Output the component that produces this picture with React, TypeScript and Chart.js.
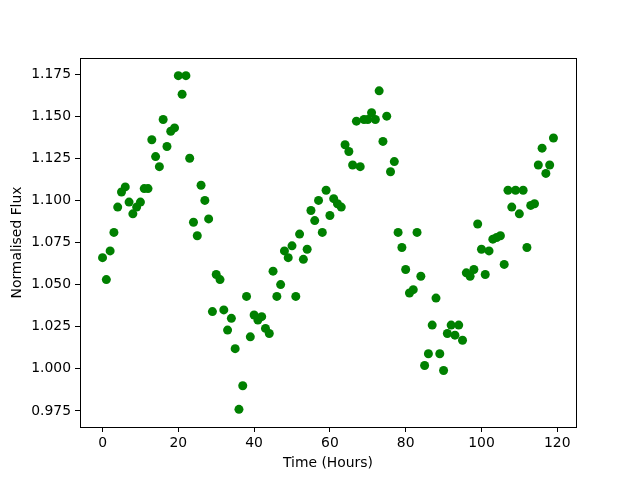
import React, { useEffect, useRef } from "react";
import { Chart, registerables } from "chart.js";

Chart.register(...registerables);

const hours: number[] = [
  0, 1, 2, 3, 4, 5, 6, 7, 8, 9, 10, 11, 12, 13, 14, 15, 16, 17, 18, 19,
  20, 21, 22, 23, 24, 25, 26, 27, 28, 29, 30, 31, 32, 33, 34, 35, 36, 37, 38, 39,
  40, 41, 42, 43, 44, 45, 46, 47, 48, 49, 50, 51, 52, 53, 54, 55, 56, 57, 58, 59,
  60, 61, 62, 63, 64, 65, 66, 67, 68, 69, 70, 71, 72, 73, 74, 75, 76, 77, 78, 79,
  80, 81, 82, 83, 84, 85, 86, 87, 88, 89, 90, 91, 92, 93, 94, 95, 96, 97, 98, 99,
  100, 101, 102, 103, 104, 105, 106, 107, 108, 109, 110, 111, 112, 113, 114, 115, 116, 117, 118, 119,
];

const flux: number[] = [
  1.066, 1.053, 1.070, 1.081, 1.096, 1.105, 1.108, 1.099, 1.092, 1.096, 1.099, 1.107, 1.107, 1.136, 1.126, 1.120, 1.148, 1.132, 1.141, 1.143,
  1.174, 1.163, 1.174, 1.125, 1.087, 1.079, 1.109, 1.100, 1.089, 1.034, 1.056, 1.053, 1.035, 1.023, 1.030, 1.012, 0.976, 0.990, 1.043, 1.019,
  1.032, 1.029, 1.031, 1.024, 1.021, 1.058, 1.043, 1.050, 1.070, 1.066, 1.073, 1.043, 1.080, 1.065, 1.071, 1.094, 1.088, 1.100, 1.081, 1.106,
  1.091, 1.101, 1.098, 1.096, 1.133, 1.129, 1.121, 1.147, 1.120, 1.148, 1.148, 1.152, 1.148, 1.165, 1.135, 1.150, 1.117, 1.123, 1.081, 1.072,
  1.059, 1.045, 1.047, 1.081, 1.055, 1.002, 1.009, 1.026, 1.042, 1.009, 0.999, 1.021, 1.026, 1.020, 1.026, 1.017, 1.057, 1.055, 1.059, 1.086,
  1.071, 1.056, 1.070, 1.077, 1.078, 1.079, 1.062, 1.106, 1.096, 1.106, 1.092, 1.106, 1.072, 1.097, 1.098, 1.121, 1.131, 1.116, 1.121, 1.137,
];

const xTicks: number[] = [0, 20, 40, 60, 80, 100, 120];
const yTicks: number[] = [0.975, 1.0, 1.025, 1.05, 1.075, 1.1, 1.125, 1.15, 1.175];

const FONT = "'DejaVu Sans', sans-serif";

const framePlugin = {
  id: "frame",
  afterDraw(chart: any) {
    const { ctx, chartArea } = chart;
    ctx.save();
    ctx.strokeStyle = "#000";
    ctx.lineWidth = 1;
    ctx.strokeRect(
      Math.round(chartArea.left) + 0.5,
      Math.round(chartArea.top) + 0.5,
      Math.round(chartArea.right - chartArea.left),
      Math.round(chartArea.bottom - chartArea.top)
    );
    ctx.restore();
  },
};

export default function App() {
  const ref = useRef<HTMLCanvasElement | null>(null);

  useEffect(() => {
    if (!ref.current) return;
    const data = hours.map((h, i) => ({ x: h, y: flux[i] }));
    const chart = new Chart(ref.current, {
      type: "scatter",
      data: {
        datasets: [
          {
            data,
            backgroundColor: "#008000",
            borderColor: "#008000",
            borderWidth: 0,
            pointRadius: 4.5,
          },
        ],
      },
      options: {
        animation: false,
        responsive: false,
        devicePixelRatio: 1,
        layout: { padding: { left: 0, right: 64, top: 58, bottom: 0 } },
        plugins: {
          legend: { display: false },
          tooltip: { enabled: false },
        },
        scales: {
          x: {
            type: "linear",
            min: -5.95,
            max: 124.95,
            afterFit: (s: any) => {
              s.height = 53;
            },
            afterBuildTicks: (s: any) => {
              s.ticks = xTicks.map((v) => ({ value: v }));
            },
            ticks: {
              color: "#000",
              font: { family: FONT, size: 13.9 },
              padding: 3,
              maxRotation: 0,
              callback: (v: any) => String(v),
            },
            grid: {
              drawOnChartArea: false,
              drawTicks: true,
              tickLength: 5,
              color: "#000",
            },
            border: { display: true, color: "#000" },
            title: {
              display: true,
              text: "Time (Hours)",
              color: "#000",
              font: { family: FONT, size: 13.9 },
              padding: { top: 0, bottom: 8.5 },
            },
          },
          y: {
            type: "linear",
            min: 0.9655,
            max: 1.1845,
            afterFit: (s: any) => {
              s.width = 80;
            },
            afterBuildTicks: (s: any) => {
              s.ticks = yTicks.map((v) => ({ value: v }));
            },
            ticks: {
              color: "#000",
              font: { family: FONT, size: 13.9 },
              padding: 4,
              callback: (v: any) => Number(v).toFixed(3),
            },
            grid: {
              drawOnChartArea: false,
              drawTicks: true,
              tickLength: 5,
              color: "#000",
            },
            border: { display: true, color: "#000" },
            title: {
              display: true,
              text: "Normalised Flux",
              color: "#000",
              font: { family: FONT, size: 13.9 },
              padding: { top: 9, bottom: 0 },
            },
          },
        },
      },
      plugins: [framePlugin],
    });
    return () => chart.destroy();
  }, []);

  return (
    <div style={{ position: "fixed", left: 0, top: 0, width: 640, height: 480, background: "#fff" }}>
      <canvas ref={ref} width={640} height={480} style={{ width: 640, height: 480 }} />
    </div>
  );
}
